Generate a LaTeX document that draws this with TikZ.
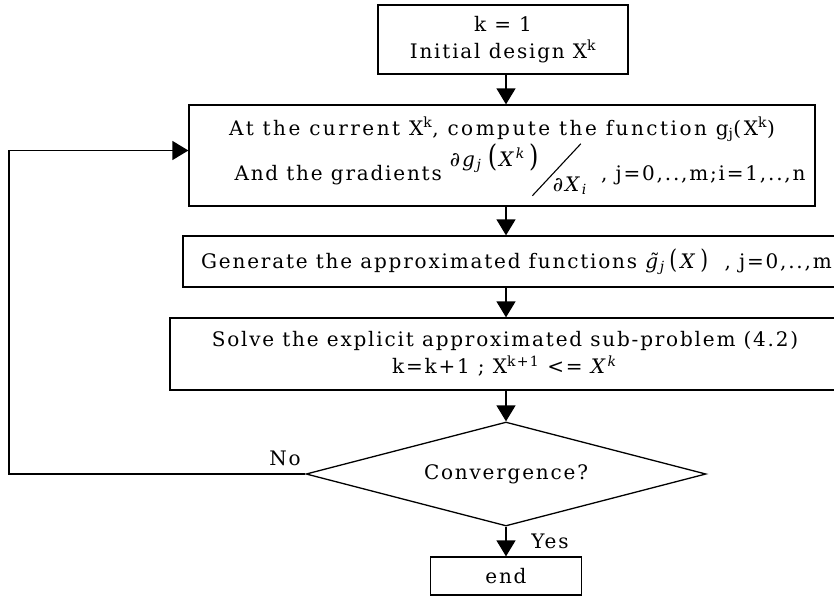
\documentclass[tikz,border=0pt]{standalone}
\usepackage{fontspec}
\setmainfont[LetterSpace=9]{DejaVu Serif}
\usetikzlibrary{arrows.meta,shapes.geometric}
\newcommand{\ix}[1]{\textit{#1}}
\newcommand{\gradfrac}{\setlength{\unitlength}{1pt}\begin{picture}(143,0)
  \put(0,14){\ix{∂g}\textsubscript{\ix{j}}\hspace{5pt}\scalebox{1.2}[1.5]{(}\hspace{2pt}\ix{X}\textsuperscript{\ix{k}}\hspace{3pt}\scalebox{1.2}[1.5]{)}}
  \put(82,-16){\rotatebox[origin=lB]{47}{\rule{71pt}{1.1pt}}}
  \put(103,-11){\ix{∂X}\textsubscript{\ix{i}}}
\end{picture}}
\begin{document}
\begin{tikzpicture}[x=1pt,y=1pt,
  font=\fontsize{20}{24}\selectfont,
  box/.style={draw, line width=1.3pt, inner sep=0pt, align=center},
  decision/.style={draw, diamond, shape aspect=3.85, line width=1.3pt, inner sep=0pt, minimum width=400pt, minimum height=104pt},
  flow/.style={line width=1.3pt, -{Triangle[length=16pt,width=19pt]}},
  lab/.style={inner sep=0pt}]
\useasboundingbox (0,0) rectangle (834,-597);
\clip (0,0) rectangle (834,-597);
\fill[white] (0,0) rectangle (834,-597);

\node[box, minimum width=250pt, minimum height=69pt] (b1) at (503,-39.5)
  {k = 1\\[3pt]Initial design X\textsuperscript{k}};
\node[box, minimum width=626pt, minimum height=101pt] (b2) at (502,-155.5)
  {{\addfontfeature{LetterSpace=12.5}At the current X\textsuperscript{k}, compute the function g\textsubscript{j}(X\textsuperscript{k})}\\[21pt]
   \hspace*{36pt}And the gradients \gradfrac\ , j=0,..,m;i=1,..,n\rule[-14pt]{0pt}{1pt}};
\node[box, minimum width=667pt, minimum height=51pt] (b3) at (516.5,-261.5)
  {Generate the approximated functions \~{\ix{g}}\textsubscript{\ix{j}}\,\scalebox{1}[1.3]{(}\,\ix{X}\,\scalebox{1}[1.3]{)}\ \ , j=0,..,m};
\node[box, minimum width=670pt, minimum height=72pt] (b4) at (505,-354)
  {Solve the explicit approximated sub-problem (4.2)\\[3pt]k=k+1 ; X\textsuperscript{k+1} <= \ix{X}\textsuperscript{\ix{k}}};
\node[decision] (d) at (506,-474) {Convergence?};
\node[box, minimum width=151pt, minimum height=38pt] (e) at (506,-576) {end};

\node[lab] (no) at (285,-458) {No};
\node[lab] (yes) at (550,-541) {Yes};

\coordinate (lp) at (9,-474);
\draw[flow] (d.north |- b1.south) -- (d.north |- b2.north);
\draw[flow] (d.north |- b2.south) -- (d.north |- b3.north);
\draw[flow] (d.north |- b3.south) -- (d.north |- b4.north);
\draw[flow] (d.north |- b4.south) -- (d.north);
\draw[flow] (d.south) -- (e.north);
\draw[flow] (d.west) -- (lp) |- ([yshift=5pt]b2.west);
\end{tikzpicture}
\end{document}
